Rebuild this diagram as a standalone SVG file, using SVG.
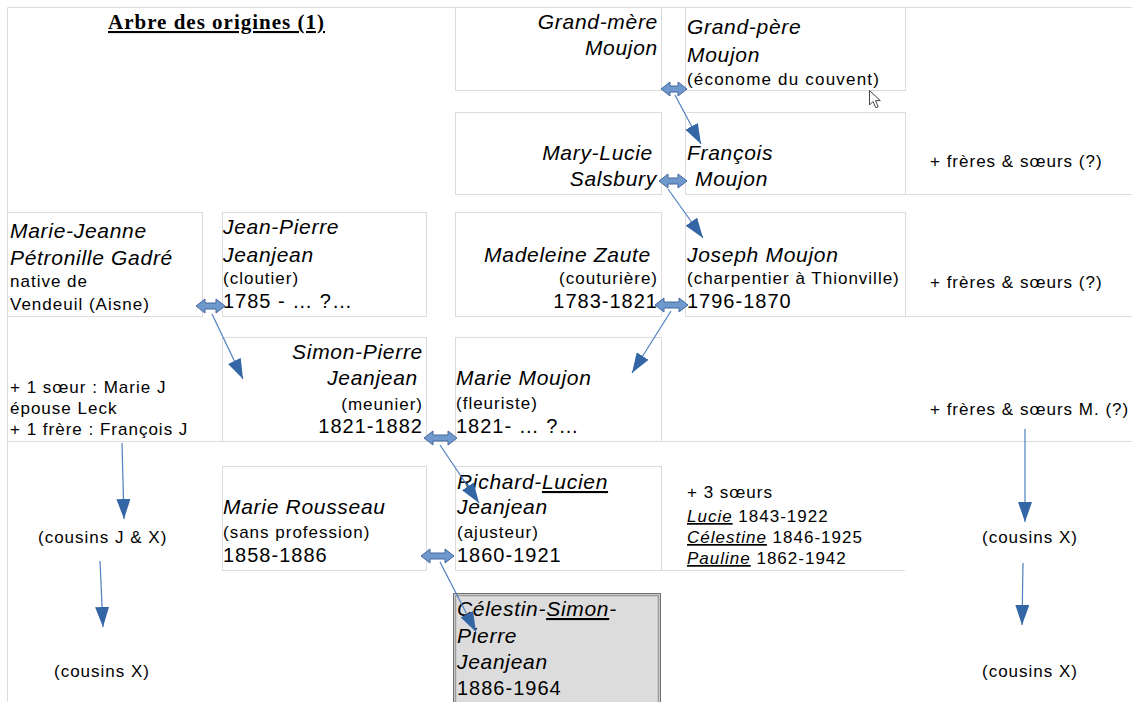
<svg xmlns="http://www.w3.org/2000/svg" width="1132" height="702" viewBox="0 0 1132 702">
<style>
  text { font-family: "Liberation Sans", Arial, sans-serif; fill: #000; letter-spacing: 1px; }
  .nm { font-size: 21px; font-style: italic; letter-spacing: 0.7px; }
  .sb { font-size: 17px; }
  .dt { font-size: 20px; }
  .it { font-style: italic; }
  .ul { text-decoration: underline; }
  .end { text-anchor: end; }
  .title { font-family: "Liberation Serif", "Times New Roman", serif; font-size: 21px; font-weight: bold; text-decoration: underline; }
  .cell { fill: #fff; stroke: #dcdcdc; stroke-width: 1; }
  .ln { stroke: #dcdcdc; stroke-width: 1; fill: none; }
  .dbl { fill: #6f98cc; stroke: #44699e; stroke-width: 1; }
  .conn { stroke: #4f7fbf; stroke-width: 1.2; fill: none; marker-end: url(#ah); }
</style>
<defs>
  <marker id="ah" markerUnits="userSpaceOnUse" markerWidth="20" markerHeight="14" refX="20" refY="7" orient="auto" viewBox="0 0 20 14">
    <path d="M0,0 L20,7 L0,14 Z" fill="#3465a4"/>
  </marker>
</defs>
<rect width="1132" height="702" fill="#fff"/>
<!-- page borders -->
<path class="ln" d="M7.5,702 V7.5 H1132"/>
<path class="ln" d="M905.5,112 V194.5 H1132 M905.5,212 V316.5 H1132 M7.5,441.5 H1132 M661,570.5 H905"/>

<text class="title" x="108" y="29">Arbre des origines (1)</text>

<g id="grand-mere">
  <rect class="cell" x="455.5" y="7.5" width="206" height="83"/>
  <text class="nm end" x="658" y="29">Grand-mère</text>
  <text class="nm end" x="658" y="55">Moujon</text>
</g>
<g id="grand-pere">
  <rect class="cell" x="685.5" y="7.5" width="220" height="83"/>
  <text class="nm" x="687" y="34">Grand-père</text>
  <text class="nm" x="687" y="62">Moujon</text>
  <text class="sb" x="687" y="85" style="letter-spacing:1.2px">(économe du couvent)</text>
</g>
<g id="mary-lucie">
  <rect class="cell" x="455.5" y="112.5" width="206" height="82"/>
  <text class="nm end" x="653" y="160">Mary-Lucie</text>
  <text class="nm end" x="657" y="186">Salsbury</text>
</g>
<g id="francois">
  <rect class="cell" x="685.5" y="112.5" width="220" height="82"/>
  <text class="nm" x="687" y="160">François</text>
  <text class="nm" x="695" y="186">Moujon</text>
</g>
<g id="freres1">
  <text class="sb" x="930" y="167">+ frères &amp; sœurs (?)</text>
</g>
<g id="marie-jeanne">
  <rect class="cell" x="7.5" y="212.5" width="195" height="104"/>
  <text class="nm" x="10" y="238">Marie-Jeanne</text>
  <text class="nm" x="10" y="265">Pétronille Gadré</text>
  <text class="sb" x="10" y="287">native de</text>
  <text class="sb" x="10" y="310">Vendeuil (Aisne)</text>
</g>
<g id="jean-pierre">
  <rect class="cell" x="222.5" y="212.5" width="204" height="104"/>
  <text class="nm" x="223" y="234">Jean-Pierre</text>
  <text class="nm" x="223" y="262">Jeanjean</text>
  <text class="sb" x="223" y="284">(cloutier)</text>
  <text class="dt" x="223" y="308">1785 - … ?…</text>
</g>
<g id="madeleine">
  <rect class="cell" x="455.5" y="212.5" width="206" height="104"/>
  <text class="nm end" x="651" y="262">Madeleine Zaute</text>
  <text class="sb end" x="658" y="284">(couturière)</text>
  <text class="dt end" x="658" y="308">1783-1821</text>
</g>
<g id="joseph">
  <rect class="cell" x="685.5" y="212.5" width="220" height="104"/>
  <text class="nm" x="687" y="262">Joseph Moujon</text>
  <text class="sb" x="687" y="284">(charpentier à Thionville)</text>
  <text class="dt" x="687" y="308">1796-1870</text>
</g>
<g id="freres2">
  <text class="sb" x="930" y="288">+ frères &amp; sœurs (?)</text>
</g>
<g id="soeur-frere">
  <text class="sb" x="10" y="393">+ 1 sœur : Marie J</text>
  <text class="sb" x="10" y="414">épouse Leck</text>
  <text class="sb" x="10" y="435">+ 1 frère : François J</text>
</g>
<g id="simon-pierre">
  <rect class="cell" x="222.5" y="337.5" width="204" height="104"/>
  <text class="nm end" x="423" y="359">Simon-Pierre</text>
  <text class="nm end" x="418" y="385">Jeanjean</text>
  <text class="sb end" x="423" y="410">(meunier)</text>
  <text class="dt end" x="423" y="433">1821-1882</text>
</g>
<g id="marie-moujon">
  <rect class="cell" x="455.5" y="337.5" width="206" height="104"/>
  <text class="nm" x="456" y="385">Marie Moujon</text>
  <text class="sb" x="456" y="409">(fleuriste)</text>
  <text class="dt" x="456" y="433">1821- … ?…</text>
</g>
<g id="freres3">
  <text class="sb" x="930" y="415">+ frères &amp; sœurs M. (?)</text>
</g>
<g id="marie-rousseau">
  <rect class="cell" x="222.5" y="466.5" width="204" height="104"/>
  <text class="nm" x="223" y="514">Marie Rousseau</text>
  <text class="sb" x="223" y="538">(sans profession)</text>
  <text class="dt" x="223" y="562">1858-1886</text>
</g>
<g id="richard-lucien">
  <rect class="cell" x="455.5" y="466.5" width="206" height="104"/>
  <text class="nm" x="457" y="489">Richard-<tspan class="ul">Lucien</tspan></text>
  <text class="nm" x="457" y="514">Jeanjean</text>
  <text class="sb" x="457" y="538">(ajusteur)</text>
  <text class="dt" x="457" y="562">1860-1921</text>
</g>
<g id="soeurs3">
  <text class="sb" x="687" y="498">+ 3 sœurs</text>
  <text class="sb" x="687" y="522"><tspan class="it ul">Lucie</tspan> 1843-1922</text>
  <text class="sb" x="687" y="543"><tspan class="it ul">Célestine</tspan> 1846-1925</text>
  <text class="sb" x="687" y="564"><tspan class="it ul">Pauline</tspan> 1862-1942</text>
</g>
<g id="cousins-jx">
  <text class="sb" x="38" y="543">(cousins J &amp; X)</text>
</g>
<g id="cousins-x-right1">
  <text class="sb" x="982" y="543">(cousins X)</text>
</g>
<g id="cousins-x-left">
  <text class="sb" x="54" y="677">(cousins X)</text>
</g>
<g id="cousins-x-right2">
  <text class="sb" x="982" y="677">(cousins X)</text>
</g>
<g id="celestin">
  <rect x="453.5" y="593.5" width="207" height="115" fill="#dcdcdc" stroke="#6e6e6e" stroke-width="1"/>
  <rect x="455.5" y="595.5" width="203" height="115" fill="none" stroke="#9a9a9a" stroke-width="1.5"/>
  <text class="nm" x="457" y="616">Célestin-<tspan class="ul">Simon</tspan>-</text>
  <text class="nm" x="457" y="643">Pierre</text>
  <text class="nm" x="457" y="669">Jeanjean</text>
  <text class="dt" x="457" y="695">1886-1964</text>
</g>

<g id="connectors">
  <line class="conn" x1="675" y1="95" x2="701" y2="144"/>
  <line class="conn" x1="668" y1="189" x2="703" y2="238"/>
  <line class="conn" x1="671" y1="311" x2="632" y2="373"/>
  <line class="conn" x1="212" y1="314" x2="243" y2="379"/>
  <line class="conn" x1="440" y1="445" x2="479" y2="503"/>
  <line class="conn" x1="440" y1="562" x2="476" y2="632"/>
  <line class="conn" x1="122" y1="443" x2="124" y2="519"/>
  <line class="conn" x1="100" y1="561" x2="103" y2="627"/>
  <line class="conn" x1="1025" y1="429" x2="1025" y2="522"/>
  <line class="conn" x1="1023" y1="563" x2="1022" y2="625"/>
  <path class="dbl" d="M661,89 L670,82 L670,86 L678,86 L678,82 L687,89 L678,96 L678,92 L670,92 L670,96 Z"/>
  <path class="dbl" d="M659,181 L668,174 L668,178 L678,178 L678,174 L687,181 L678,188 L678,184 L668,184 L668,188 Z"/>
  <path class="dbl" d="M196,306 L205,299 L205,303 L216,303 L216,299 L225,306 L216,313 L216,309 L205,309 L205,313 Z"/>
  <path class="dbl" d="M655,305 L664,298 L664,302 L679,302 L679,298 L688,305 L679,312 L679,308 L664,308 L664,312 Z"/>
  <path class="dbl" d="M424,438 L433,431 L433,435 L448,435 L448,431 L457,438 L448,445 L448,441 L433,441 L433,445 Z"/>
  <path class="dbl" d="M421,556 L430,549 L430,553 L445,553 L445,549 L454,556 L445,563 L445,559 L430,559 L430,563 Z"/>
</g>
<path d="M869.5,90.5 L869.5,105 L873,101.5 L875.8,107.8 L878.2,106.8 L875.5,100.6 L880.3,100.6 Z" fill="#fff" stroke="#333" stroke-width="0.9"/>
</svg>
